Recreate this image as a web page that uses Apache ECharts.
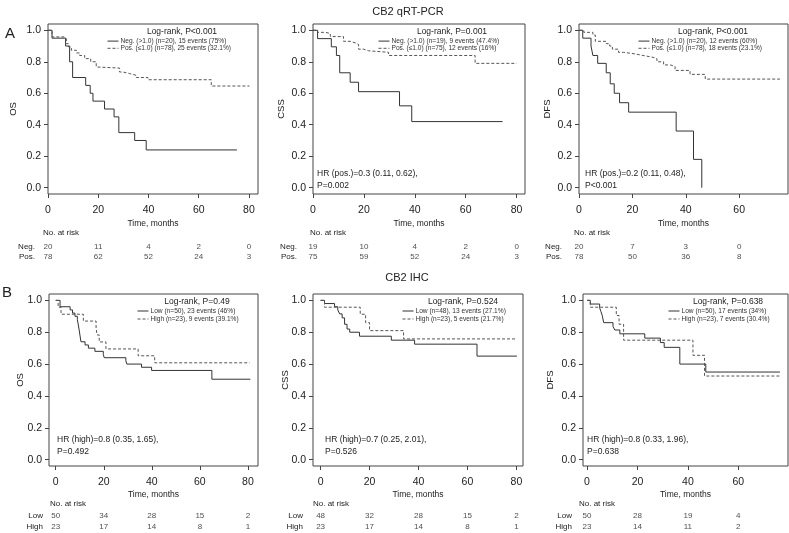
<!DOCTYPE html>
<html><head><meta charset="utf-8">
<script src="https://cdn.jsdelivr.net/npm/echarts@6/dist/echarts.min.js"></script>
<style>html,body{margin:0;padding:0;background:#fff}#c{width:789px;height:533px}</style>
</head><body><div id="c"></div>
<script>
// ---------- DATA ----------
const xTicks80 = [0, 20, 40, 60, 80];
const xTicks60 = [0, 20, 40, 60];
const yTicks = [0, 0.2, 0.4, 0.6, 0.8, 1.0];

// A: CB2 qRT-PCR
const aOsNegT = [0, 1.6, 7.0, 8.6, 9.8, 15.0, 16.8, 17.9, 22.5, 26.3, 28.2, 34.5, 39.1, 75.2];
const aOsNegS = [1, 0.95, 0.90, 0.80, 0.70, 0.65, 0.60, 0.55, 0.50, 0.45, 0.35, 0.30, 0.24, 0.24];
const aOsPosT = [0, 1.6, 6.4, 7.3, 8.2, 9.3, 11.3, 12.6, 14.6, 17.0, 19.2, 19.9, 28.5, 29.8, 32.5, 35.1, 39.8, 65.0, 80.2];
const aOsPosS = [1, 0.958, 0.947, 0.915, 0.894, 0.873, 0.856, 0.84, 0.82, 0.80, 0.767, 0.76, 0.735, 0.725, 0.714, 0.70, 0.686, 0.646, 0.646];

const aCssNegT = [0, 1.8, 7.2, 9.2, 10.5, 14.6, 17.9, 34.0, 38.8, 74.5];
const aCssNegS = [1, 0.947, 0.895, 0.84, 0.73, 0.67, 0.61, 0.52, 0.42, 0.42];
const aCssPosT = [0, 1.8, 4.8, 6.8, 12.0, 14.6, 16.6, 17.9, 19.9, 21.8, 29.7, 63.7, 80.0];
const aCssPosS = [1, 0.987, 0.98, 0.96, 0.93, 0.92, 0.91, 0.88, 0.87, 0.86, 0.84, 0.79, 0.79];

const aDfsNegT = [0, 1.4, 4.5, 5.2, 7.0, 10.2, 11.7, 13.2, 15.2, 18.6, 36.4, 42.9, 46.0];
const aDfsNegS = [1, 0.95, 0.90, 0.84, 0.79, 0.73, 0.66, 0.60, 0.54, 0.48, 0.36, 0.18, 0.0];
const aDfsPosT = [0, 1.8, 5.2, 6.1, 10.2, 11.5, 12.5, 14.8, 16.7, 21.0, 24.0, 27.3, 29.2, 31.7, 34.2, 36.0, 41.6, 47.3, 75.3];
const aDfsPosS = [1, 0.987, 0.97, 0.93, 0.915, 0.90, 0.88, 0.86, 0.85, 0.84, 0.83, 0.82, 0.80, 0.78, 0.77, 0.745, 0.72, 0.69, 0.69];

// B: CB2 IHC
const bOsLowT = [0, 1.8, 6.0, 7.0, 8.0, 9.0, 9.7, 10.5, 12.2, 13.6, 16.3, 19.8, 20.2, 29.2, 29.6, 35.7, 39.9, 65.0, 81.0];
const bOsLowS = [1, 0.96, 0.94, 0.92, 0.90, 0.88, 0.82, 0.74, 0.72, 0.70, 0.68, 0.66, 0.64, 0.62, 0.60, 0.58, 0.56, 0.505, 0.505];
const bOsHighT = [0, 1.0, 2.2, 11.5, 16.8, 17.2, 18.1, 20.9, 34.3, 41.2, 80.7];
const bOsHighS = [1, 0.957, 0.913, 0.870, 0.826, 0.783, 0.739, 0.695, 0.652, 0.608, 0.608];

const bCssLowT = [0, 1.6, 5.7, 7.0, 7.8, 8.8, 9.8, 10.8, 11.9, 15.9, 28.9, 38.4, 63.9, 80.2];
const bCssLowS = [1, 0.98, 0.96, 0.94, 0.915, 0.89, 0.85, 0.82, 0.80, 0.775, 0.75, 0.725, 0.65, 0.65];
const bCssHighT = [0, 1.6, 16.2, 18.4, 20.0, 33.9, 80.0];
const bCssHighS = [1, 0.957, 0.913, 0.86, 0.81, 0.758, 0.758];

const bDfsLowT = [0, 1.3, 5.0, 5.5, 6.0, 6.6, 10.3, 11.0, 13.0, 22.9, 29.1, 30.6, 36.8, 47.1, 76.5];
const bDfsLowS = [1, 0.977, 0.953, 0.93, 0.907, 0.86, 0.837, 0.814, 0.79, 0.763, 0.735, 0.705, 0.60, 0.55, 0.55];
const bDfsHighT = [0, 1.3, 11.6, 12.7, 14.5, 42.0, 46.6, 76.5];
const bDfsHighS = [1, 0.957, 0.905, 0.85, 0.75, 0.655, 0.525, 0.525];

// Numbers at risk
const aOsRiskNeg = [20, 11, 4, 2, 0];
const aOsRiskPos = [78, 62, 52, 24, 3];
const aCssRiskNeg = [19, 10, 4, 2, 0];
const aCssRiskPos = [75, 59, 52, 24, 3];
const aDfsRiskNeg = [20, 7, 3, 0];
const aDfsRiskPos = [78, 50, 36, 8];
const bOsRiskLow = [50, 34, 28, 15, 2];
const bOsRiskHigh = [23, 17, 14, 8, 1];
const bCssRiskLow = [48, 32, 28, 15, 2];
const bCssRiskHigh = [23, 17, 14, 8, 1];
const bDfsRiskLow = [50, 28, 19, 4];
const bDfsRiskHigh = [23, 14, 11, 2];

// ---------- LAYOUT ----------
const FONT = '"Liberation Sans", Arial, Helvetica, sans-serif';
const panels = [
  { grid:{left:48, top:24, width:210, height:170}, xMin:0, xMax:83.6, ticks:xTicks80, yName:'OS', yGap:30, xGap:25,
    risk:{top:242, height:20, margin:13}, noRisk:[43,233], rows:['Neg.','Pos.'],
    curves:[['Neg. (>1.0) (n=20), 15 events (75%)', aOsNegT, aOsNegS], ['Pos. (≤1.0) (n=78), 25 events (32.1%)', aOsPosT, aOsPosS]],
    riskVals:[aOsRiskNeg, aOsRiskPos], logRank:['Log-rank, P<0.001',182,32], legend:[107,37.5,9], hr:null },
  { grid:{left:313, top:24, width:212, height:170}, xMin:0, xMax:83.3, ticks:xTicks80, yName:'CSS', yGap:27, xGap:25,
    risk:{top:242, height:20, margin:16}, noRisk:[310,233], rows:['Neg.','Pos.'],
    curves:[['Neg. (>1.0) (n=19), 9 events (47.4%)', aCssNegT, aCssNegS], ['Pos. (≤1.0) (n=75), 12 events (16%)', aCssPosT, aCssPosS]],
    riskVals:[aCssRiskNeg, aCssRiskPos], logRank:['Log-rank, P=0.001',452,32], legend:[378,37.5,9],
    hr:['HR (pos.)=0.3 (0.11, 0.62),','P=0.002',317,174] },
  { grid:{left:579, top:24, width:209, height:170}, xMin:0, xMax:78.3, ticks:xTicks60, yName:'DFS', yGap:27, xGap:25,
    risk:{top:242, height:20, margin:17}, noRisk:[574,233], rows:['Neg.','Pos.'],
    curves:[['Neg. (>1.0) (n=20), 12 events (60%)', aDfsNegT, aDfsNegS], ['Pos. (≤1.0) (n=78), 18 events (23.1%)', aDfsPosT, aDfsPosS]],
    riskVals:[aDfsRiskNeg, aDfsRiskPos], logRank:['Log-rank, P<0.001',713,32], legend:[638,37.5,9],
    hr:['HR (pos.)=0.2 (0.11, 0.48),','P<0.001',585,174] },
  { grid:{left:49, top:294, width:209, height:172}, xMin:-2.8, xMax:84.2, ticks:xTicks80, yName:'OS', yGap:24, xGap:24,
    risk:{top:510.5, height:22, margin:6}, noRisk:[50,504], rows:['Low','High'],
    curves:[['Low (n=50), 23 events (46%)', bOsLowT, bOsLowS], ['High (n=23), 9 events (39.1%)', bOsHighT, bOsHighS]],
    riskVals:[bOsRiskLow, bOsRiskHigh], logRank:['Log-rank, P=0.49',197,302], legend:[137,307,10],
    hr:['HR (high)=0.8 (0.35, 1.65),','P=0.492',57,440] },
  { grid:{left:313, top:294, width:210, height:172}, xMin:-3.1, xMax:82.7, ticks:xTicks80, yName:'CSS', yGap:23, xGap:24,
    risk:{top:510.5, height:22, margin:10}, noRisk:[313,504], rows:['Low','High'],
    curves:[['Low (n=48), 13 events (27.1%)', bCssLowT, bCssLowS], ['High (n=23), 5 events (21.7%)', bCssHighT, bCssHighS]],
    riskVals:[bCssRiskLow, bCssRiskHigh], logRank:['Log-rank, P=0.524',463,302], legend:[402,307,10],
    hr:['HR (high)=0.7 (0.25, 2.01),','P=0.526',325,440] },
  { grid:{left:583, top:294, width:205, height:172}, xMin:-1.6, xMax:79.7, ticks:xTicks60, yName:'DFS', yGap:28, xGap:24,
    risk:{top:510.5, height:22, margin:11}, noRisk:[579,504], rows:['Low','High'],
    curves:[['Low (n=50), 17 events (34%)', bDfsLowT, bDfsLowS], ['High (n=23), 7 events (30.4%)', bDfsHighT, bDfsHighS]],
    riskVals:[bDfsRiskLow, bDfsRiskHigh], logRank:['Log-rank, P=0.638',728,302], legend:[668,307,10],
    hr:['HR (high)=0.8 (0.33, 1.96),','P=0.638',587,440] }
];

const grids = [], xAxes = [], yAxes = [], series = [], legends = [], graphics = [];
function txt(text, x, y, size, align) {
  graphics.push({ type:'text', x:x, y:y, silent:true,
    style:{ text:text, font: size + 'px ' + FONT, fill:'#222', textAlign:align || 'left', textVerticalAlign:'middle' } });
}
const lineStyles = [{ color:'#333', width:1, type:'solid' }, { color:'#555', width:1, type:[3,2] }];

panels.forEach((p, i) => {
  const gi = 2 * i, ri = 2 * i + 1;
  grids.push(Object.assign({ show:true, borderColor:'#444', borderWidth:1, backgroundColor:'transparent', containLabel:false }, p.grid));
  grids.push({ left:p.grid.left, width:p.grid.width, top:p.risk.top, height:p.risk.height, show:false, containLabel:false });
  xAxes.push({ type:'value', gridIndex:gi, min:p.xMin, max:p.xMax,
    axisLine:{ show:false, onZero:false },
    axisTick:{ show:true, length:4, lineStyle:{ color:'#444' }, customValues:p.ticks },
    axisLabel:{ customValues:p.ticks, fontSize:10.5, fontFamily:FONT, color:'#222', margin:11 },
    splitLine:{ show:false },
    name:'Time, months', nameLocation:'middle', nameGap:p.xGap, nameMoveOverlap:false,
    nameTextStyle:{ fontSize:8.5, fontFamily:FONT, color:'#222' } });
  xAxes.push({ type:'value', gridIndex:ri, min:p.xMin, max:p.xMax, show:false });
  yAxes.push({ type:'value', gridIndex:gi, min:-0.04, max:1.04,
    axisLine:{ show:false, onZero:false },
    axisTick:{ show:true, length:4, lineStyle:{ color:'#444' }, customValues:yTicks },
    axisLabel:{ customValues:yTicks, formatter:v => v.toFixed(1), fontSize:10.5, fontFamily:FONT, color:'#222', margin:7 },
    splitLine:{ show:false },
    name:p.yName, nameLocation:'middle', nameGap:p.yGap, nameMoveOverlap:false,
    nameTextStyle:{ fontSize:9.5, fontFamily:FONT, color:'#222' } });
  yAxes.push({ type:'category', gridIndex:ri, data:p.rows, inverse:true,
    axisLine:{ show:false }, axisTick:{ show:false }, splitLine:{ show:false },
    axisLabel:{ interval:0, hideOverlap:false, fontSize:8, fontFamily:FONT, color:'#222', margin:p.risk.margin } });

  p.curves.forEach((c, k) => {
    series.push({ type:'line', name:c[0], xAxisIndex:gi, yAxisIndex:gi, step:'end', symbol:'none',
      lineStyle:lineStyles[k], itemStyle:{ color:lineStyles[k].color }, animation:false, silent:true,
      data:c[1].map((t, j) => [t, c[2][j]]) });
  });
  p.riskVals.forEach((vals, k) => {
    series.push({ type:'scatter', xAxisIndex:ri, yAxisIndex:ri, symbolSize:1, itemStyle:{ color:'rgba(0,0,0,0)' },
      animation:false, silent:true,
      label:{ show:true, position:'inside', formatter:q => String(q.value[2]), fontSize:8, fontFamily:FONT, color:'#222' },
      data:vals.map((v, j) => [p.ticks[j], p.rows[k], v]) });
  });
  legends.push({ left:p.legend[0], top:p.legend[1], orient:'vertical', padding:0, itemGap:0,
    itemWidth:11, itemHeight:p.legend[2], selectedMode:false,
    itemStyle:{ opacity:0, borderWidth:0 },
    lineStyle:{ width:1 },
    data:p.curves.map(c => c[0]),
    textStyle:{ fontSize:6.6, fontFamily:FONT, color:'#333', padding:[0,0,0,-3] } });
  txt(p.logRank[0], p.logRank[1], p.logRank[2], 8.5, 'center');
  txt('No. at risk', p.noRisk[0], p.noRisk[1], 8, 'left');
  if (p.hr) {
    txt(p.hr[0], p.hr[2], p.hr[3], 8.5, 'left');
    txt(p.hr[1], p.hr[2], p.hr[3] + 12, 8.5, 'left');
  }
});
txt('CB2 qRT-PCR', 408, 12, 11, 'center');
txt('CB2 IHC', 407, 278, 11, 'center');
txt('A', 10, 34, 15, 'center');
txt('B', 7, 293, 15, 'center');

const chart = echarts.init(document.getElementById('c'), null, { renderer:'canvas' });
chart.setOption({ animation:false, backgroundColor:'#fff', grid:grids, xAxis:xAxes, yAxis:yAxes,
  series:series, legend:legends, graphic:{ elements:graphics } });
</script></body></html>
